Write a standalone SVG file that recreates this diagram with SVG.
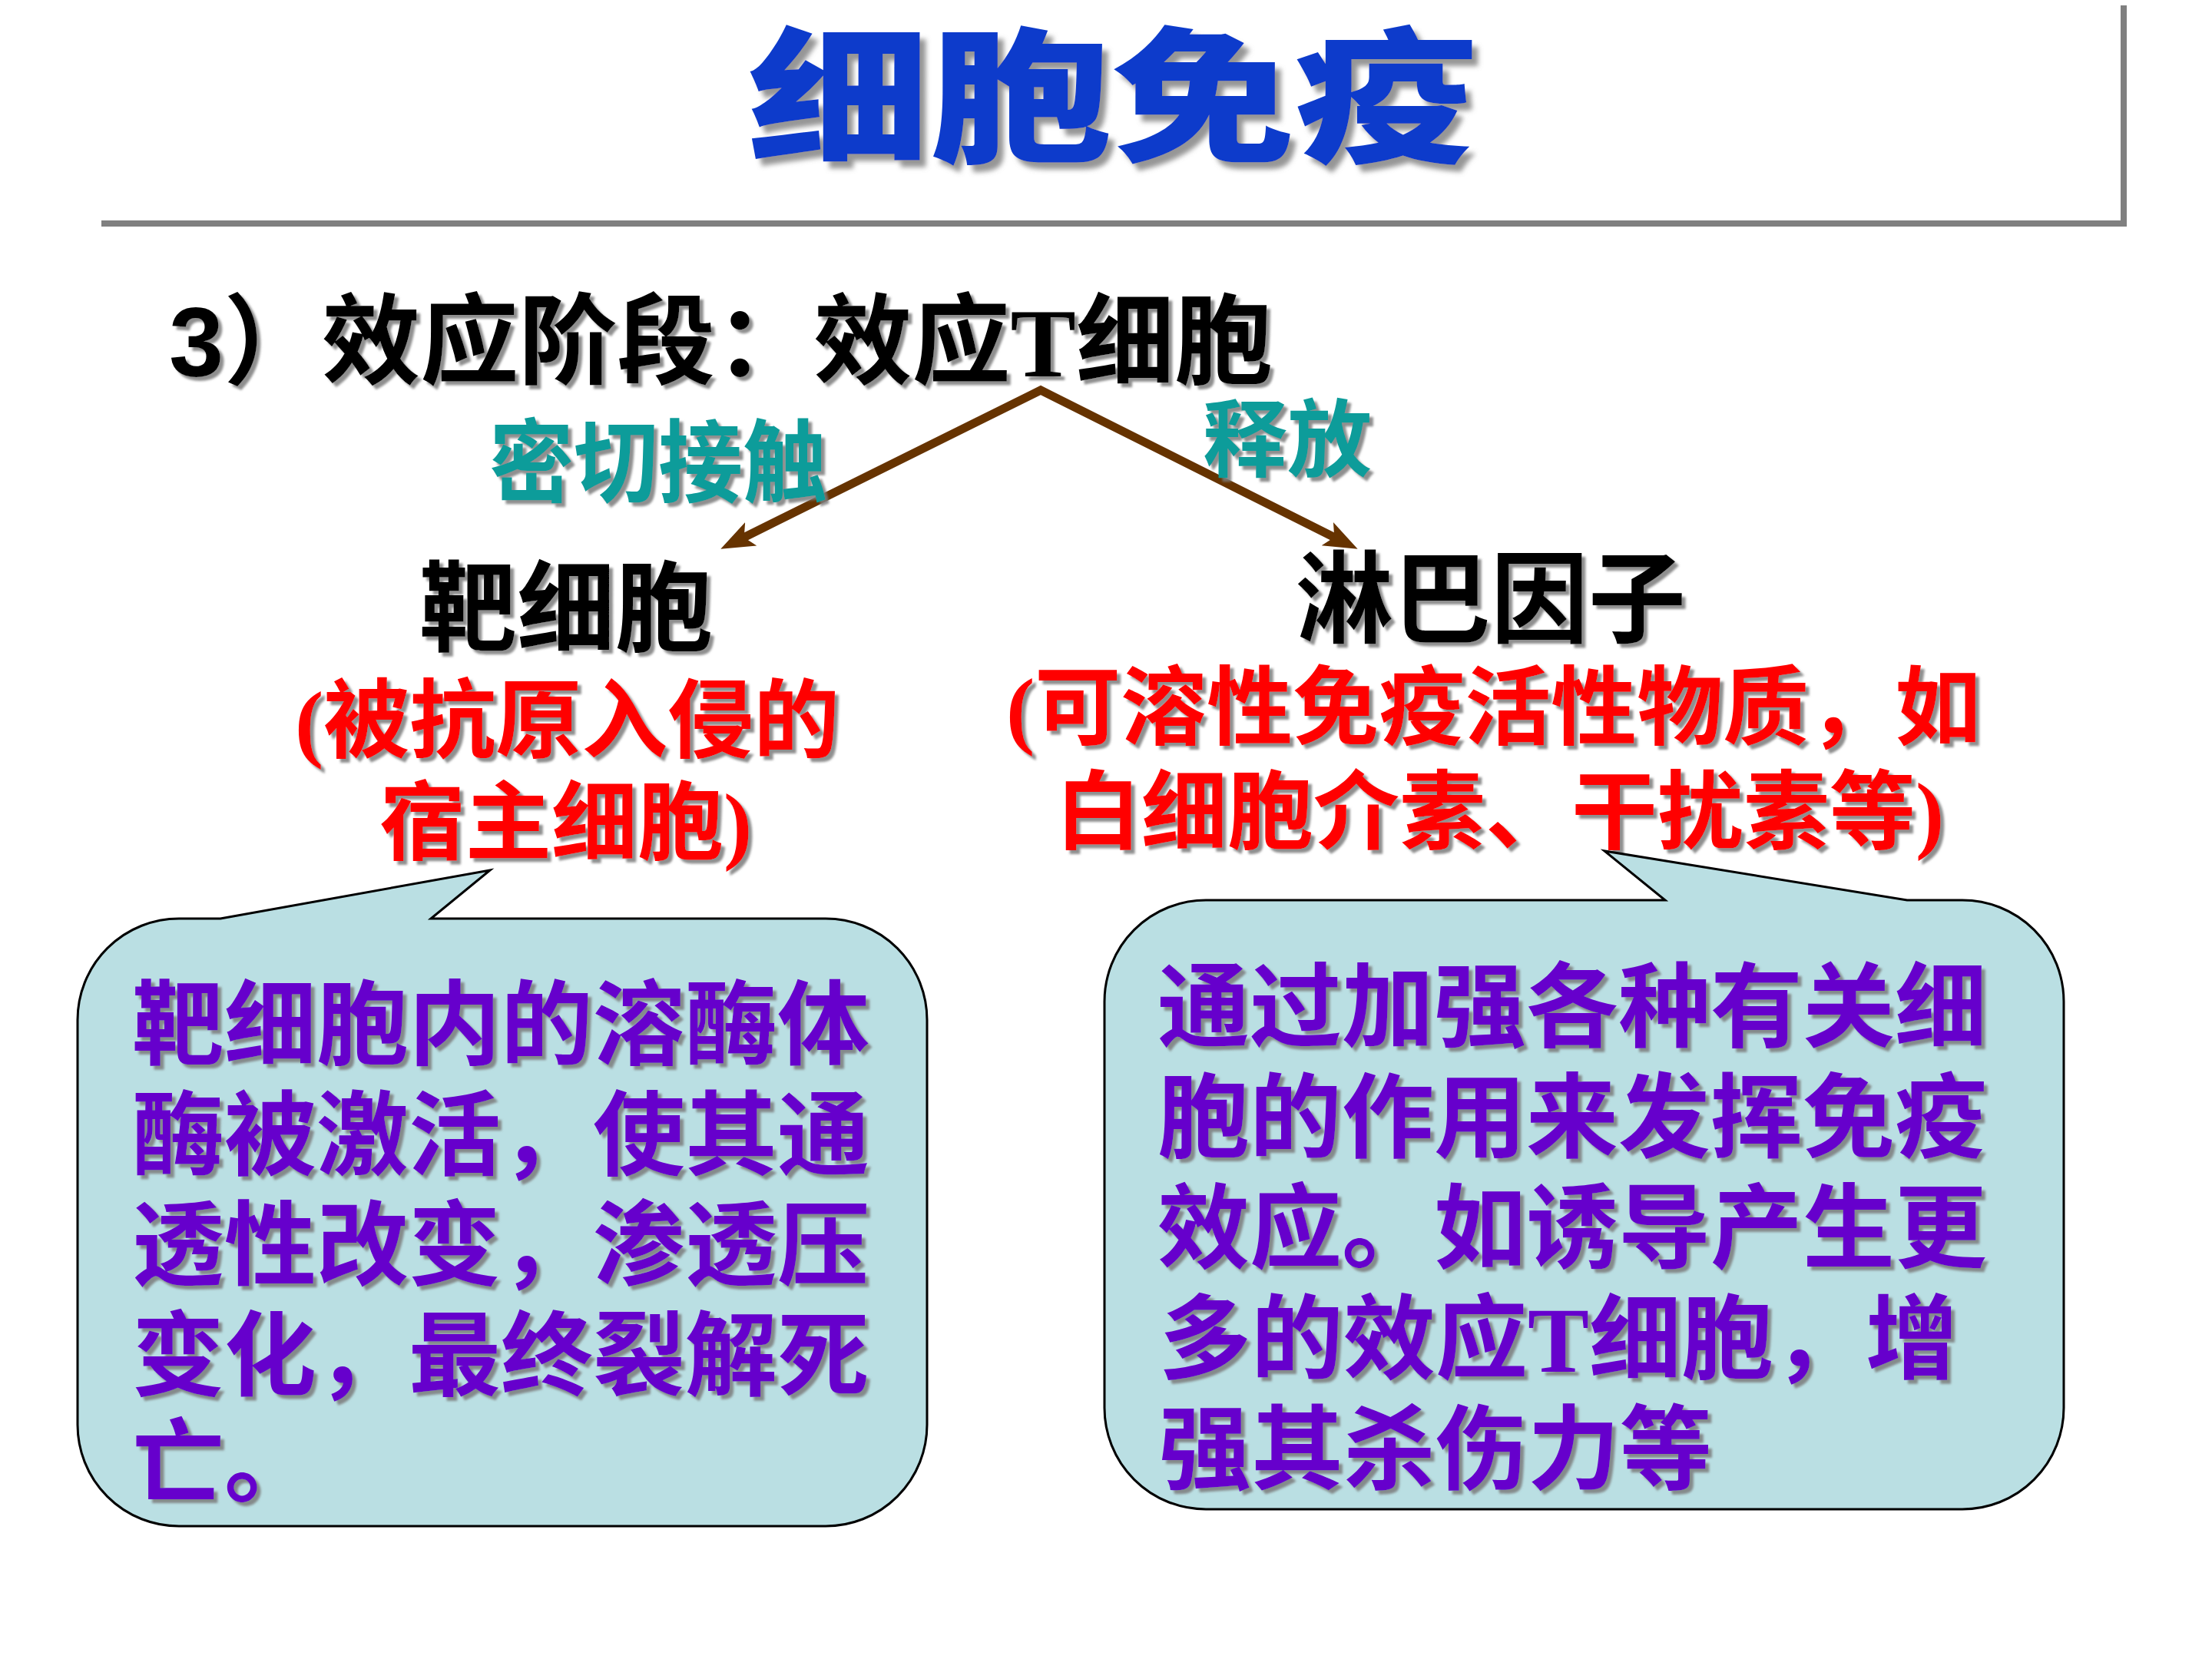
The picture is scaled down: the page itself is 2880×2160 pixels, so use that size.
<svg xmlns="http://www.w3.org/2000/svg" width="2880" height="2160" viewBox="0 0 2880 2160">
  <defs>
    <style>
      text { font-family: 'Noto Sans CJK SC', sans-serif; font-weight: 700; }
      .title { fill: #0A3BCB; font-weight: 900; font-size: 190px; }
      .head { fill: #000000; font-size: 128px; }
      .teal { fill: #0E9C9A; }
      .node { fill: #000000; }
      .red { fill: #FF0000; font-size: 112px; }
      .purple { fill: #6600CC; font-size: 120px; }
      .serif { font-family: 'Liberation Serif', 'Noto Sans CJK SC', serif; }
      .call { fill: #BADFE3; stroke: #000000; stroke-width: 3; stroke-linejoin: miter; }
      .frame { stroke: #808080; stroke-width: 8; fill: none; }
      .conn { stroke: #663300; stroke-width: 11; fill: none; stroke-linejoin: miter; stroke-miterlimit: 10; }
    </style>
    <filter id="sh" x="-5%" y="-10%" width="115%" height="130%">
      <feDropShadow dx="5" dy="5" stdDeviation="1.5" flood-color="#7a7a7a" flood-opacity="0.85"/>
    </filter>
    <filter id="shT" x="-5%" y="-10%" width="115%" height="130%">
      <feDropShadow dx="8" dy="9" stdDeviation="3" flood-color="#8a8a8a" flood-opacity="0.9"/>
    </filter>
    <marker id="ah" markerUnits="userSpaceOnUse" markerWidth="48" markerHeight="38" refX="22" refY="19" orient="auto-start-reverse">
      <path d="M0,2 L44,19 L0,36 L10,19 Z" fill="#663300"/>
    </marker>
  </defs>

  <rect width="2880" height="2160" fill="#FFFFFF"/>

  <g id="frame">
    <line class="frame" x1="132" y1="291" x2="2769" y2="291"/>
    <line class="frame" x1="2765" y1="7" x2="2765" y2="295"/>
  </g>

  <g id="title" filter="url(#shT)">
    <text class="title" x="973" y="196" textLength="950" lengthAdjust="spacingAndGlyphs">细胞免疫</text>
  </g>

  <g id="heading" filter="url(#sh)">
    <text class="head serif" x="220" y="490" textLength="1437" lengthAdjust="spacingAndGlyphs"><tspan style="font-family:'Liberation Sans','Noto Sans CJK SC',sans-serif">3</tspan>）效应阶段：效应T细胞</text>
  </g>

  <g id="connectors">
    <path class="conn" d="M958,705 L1355,508 L1748,705" marker-start="url(#ah)" marker-end="url(#ah)"/>
  </g>

  <g id="label-contact" filter="url(#sh)">
    <text class="teal" x="637" y="645" font-size="118" textLength="440" lengthAdjust="spacingAndGlyphs">密切接触</text>
  </g>
  <g id="label-release" filter="url(#sh)">
    <text class="teal" x="1566" y="612" font-size="110" textLength="220" lengthAdjust="spacingAndGlyphs">释放</text>
  </g>

  <g id="node-target" filter="url(#sh)">
    <text class="node" x="546" y="838" font-size="128" textLength="382" lengthAdjust="spacingAndGlyphs">靶细胞</text>
    <text class="red serif"><tspan x="384" y="978">(被抗原入侵的</tspan><tspan x="494" y="1111">宿主细胞)</tspan></text>
  </g>

  <g id="node-lymphokine" filter="url(#sh)">
    <text class="node" x="1687" y="826" font-size="130" textLength="508" lengthAdjust="spacingAndGlyphs">淋巴因子</text>
    <text class="red serif"><tspan x="1310" y="961">(可溶性免疫活性物质，如</tspan><tspan x="1374" y="1097">白细胞介素、干扰素等)</tspan></text>
  </g>

  <g id="callout-left">
    <path class="call" d="M233,1196 L287,1196 L638,1133 L561,1196 L1075,1196 A132,132 0 0 1 1207,1328 L1207,1855 A132,132 0 0 1 1075,1987 L233,1987 A132,132 0 0 1 101,1855 L101,1328 A132,132 0 0 1 233,1196 Z"/>
    <g filter="url(#sh)">
      <text class="purple"><tspan x="172" y="1377">靶细胞内的溶酶体</tspan><tspan x="172" y="1521">酶被激活，使其通</tspan><tspan x="172" y="1664">透性改变，渗透压</tspan><tspan x="172" y="1808">变化，最终裂解死</tspan><tspan x="172" y="1947">亡。</tspan></text>
    </g>
  </g>

  <g id="callout-right">
    <path class="call" d="M1570,1172 L2168,1172 L2089,1108 L2483,1172 L2555,1172 A132,132 0 0 1 2687,1304 L2687,1833 A132,132 0 0 1 2555,1965 L1570,1965 A132,132 0 0 1 1438,1833 L1438,1304 A132,132 0 0 1 1570,1172 Z"/>
    <g filter="url(#sh)">
      <text class="purple serif"><tspan x="1507" y="1354">通过加强各种有关细</tspan><tspan x="1507" y="1498">胞的作用来发挥免疫</tspan><tspan x="1507" y="1642">效应。如诱导产生更</tspan><tspan x="1509" y="1786">多的效应T细胞，增</tspan><tspan x="1509" y="1930">强其杀伤力等</tspan></text>
    </g>
  </g>
</svg>
